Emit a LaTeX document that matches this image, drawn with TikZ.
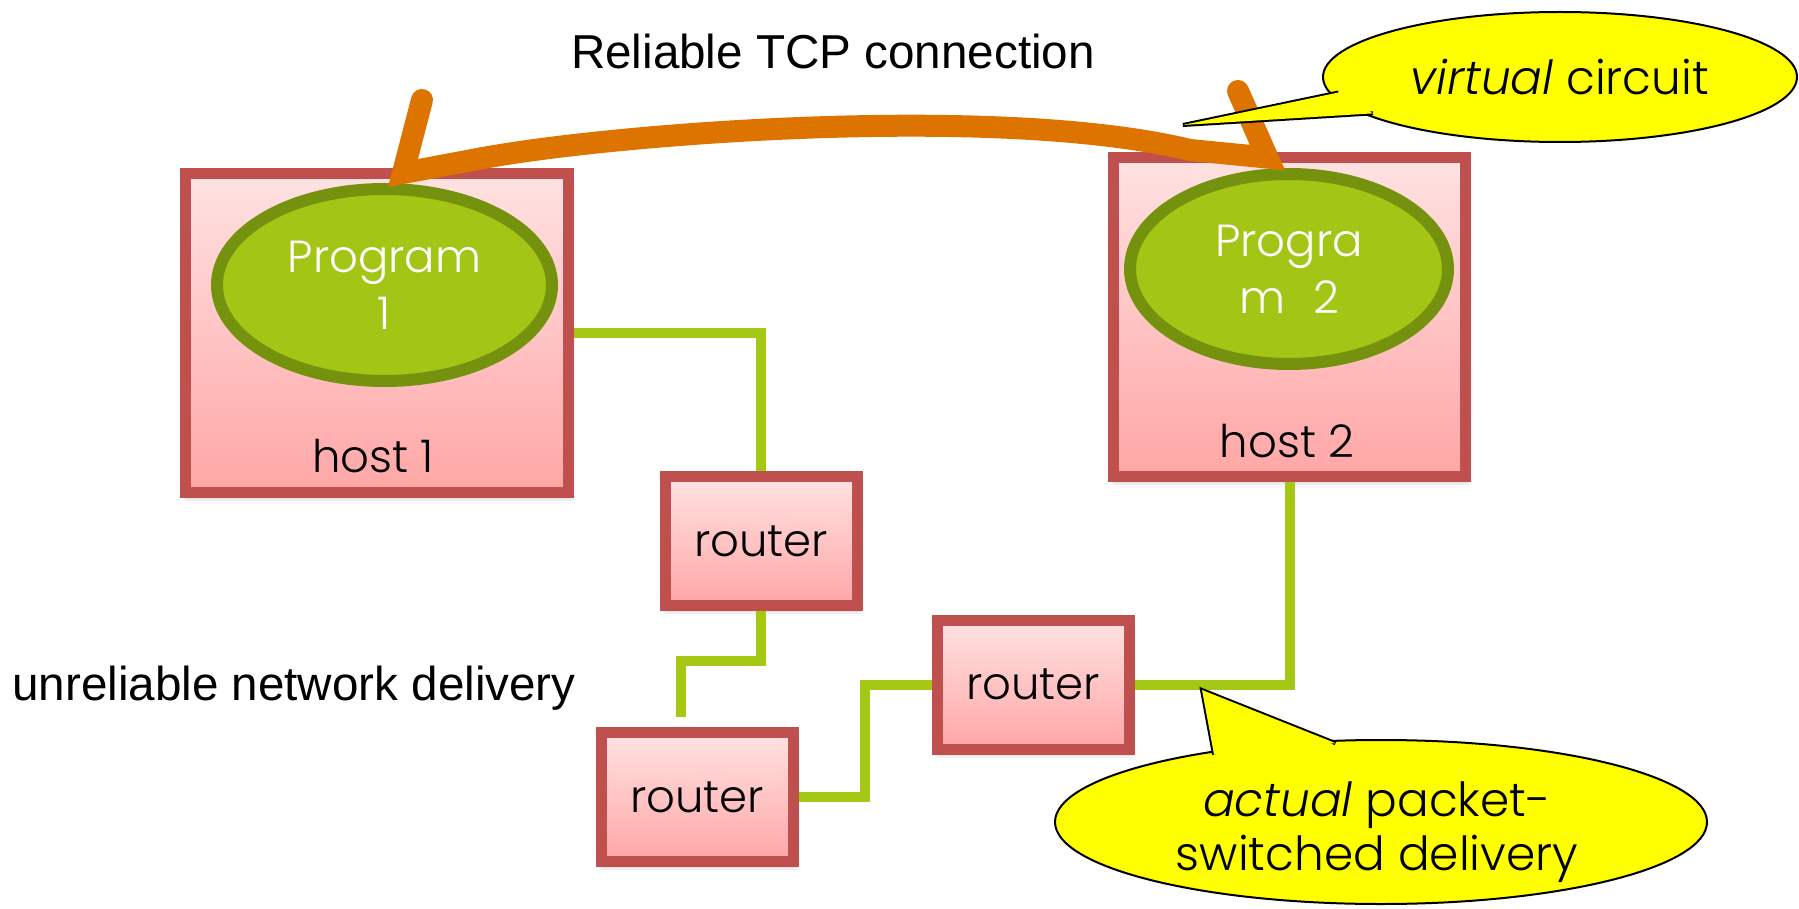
\documentclass[tikz,border=0pt]{standalone}
\usepackage{fontspec}
\setmainfont{Poppins}[UprightFont=* Light, ItalicFont=* Light Italic]
\newfontfamily\arialfont{Liberation Sans}
\usetikzlibrary{shapes.geometric,shadows.blur,calc}

\definecolor{hostred}{RGB}{192,80,77}
\definecolor{pinktop}{RGB}{255,226,226}
\definecolor{pinkbot}{RGB}{255,166,166}
\definecolor{progfill}{RGB}{162,197,22}
\definecolor{progedge}{RGB}{117,146,14}
\definecolor{wiregreen}{RGB}{164,200,20}
\definecolor{tcporange}{RGB}{222,116,0}
\definecolor{noteyellow}{RGB}{255,255,0}

\newcommand\diagfont{\fontsize{22.5}{28.5}\selectfont}
\newcommand\notefont{\fontsize{23.5}{27}\selectfont}
\newcommand\captionfont{\arialfont\fontsize{23.8}{27}\selectfont}

\begin{document}
\begin{tikzpicture}[x=0.5pt, y=-0.5pt,
  box/.style={rectangle, draw=hostred, line width=5.5pt,
    top color=pinktop, bottom color=pinkbot, inner sep=0pt,
    blur shadow={shadow xshift=1pt, shadow yshift=-2.5pt,
      shadow blur radius=2.5pt, shadow opacity=30}},
  hostbox/.style={box, minimum height=159.5pt},
  routerbox/.style={box, minimum width=96pt, minimum height=64.5pt, font=\diagfont},
  prog/.style={ellipse, draw=progedge, fill=progfill, line width=6pt,
    text=white, align=center, inner sep=0pt, font=\diagfont},
  lbl/.style={inner sep=0pt, font=\diagfont},
  caption/.style={inner sep=0pt, font=\captionfont},
  wire/.style={draw=wiregreen, line width=5pt},
  tcp/.style={draw=tcporange, line width=11pt, line cap=round, line join=miter},
  note/.style={ellipse, draw=black, fill=noteyellow, line width=1pt,
    inner sep=0pt, align=center, font=\notefont},
  notetail/.style={draw=black, fill=noteyellow, line width=2pt, line join=miter},
  notefill/.style={fill=noteyellow}
]
\useasboundingbox (0,0) rectangle (1799,909);

% hosts and routers
\node[hostbox, minimum width=191.5pt] (h1) at (377,333) {};
\node[hostbox, minimum width=176pt] (h2) at (1289.5,317) {};
\node[routerbox] (rA) at (761,541) {router};
\node[routerbox] (rB) at (697,797) {router};
\node[routerbox] (rC) at (1033,684.5) {router};

% programs
\node[prog, minimum width=167.5pt, minimum height=96pt] (p1) at (384.5,285) {Program\\1};
\node[prog, minimum width=159pt, minimum height=95pt] (p2) at (1289,269) {Progra\\m\hspace{14pt}2};

% host labels
\node[lbl, anchor=base] (h1l) at (373,472) {host 1};
\node[lbl, anchor=base] (h2l) at (1287,457) {host 2};

% captions
\node[caption, anchor=base] (tcpl) at (833,69) {Reliable TCP connection};
\node[caption, anchor=base] (unrel) at (294,700) {unreliable network delivery};

% network wiring
\coordinate (gap) at ($(rB.north)+(-16,-10)$);
\draw[wire] (h1.east) -| (rA.north);
\draw[wire] (rA.south) |- ($(rA.south)!0.47!(gap)$) -| (gap);
\draw[wire] (rB.east) -| ($(rB.east)!0.5!(rC.west)$) |- (rC.west);
\draw[wire] (rC.east) -| (h2.south);

% end-to-end TCP arrow
\draw[tcp] ($(p1.north)+(37.5,-83)$) -- ($(p1.north)+(18.5,-10)$)
  -- ($(p1.north)+(98.5,-25)$)
  .. controls ($(p1.north)+(235.5,-50)$) and ($(p2.north)+(-289,-64)$) ..
  ($(p2.north)+(-99,-18)$) -- ($(p2.north)+(-21.5,-10.4)$)
  -- ($(p2.north)+(-51,-77)$);

% callout: virtual circuit
\coordinate (vctip) at (1183,125);
\node[note, minimum width=237pt, minimum height=65pt] (vc) at (1560,77) {\textit{virtual} circuit};
\coordinate (vca) at ($(vc.center)!0.96!(vc.184)$);
\coordinate (vcb) at ($(vc.center)!0.96!(vc.191)$);
\path[notetail] (vca) -- (vctip) -- (vcb);
\path[notefill] (vca) -- (vctip) -- (vcb) -- cycle;

% callout: actual packet-switched delivery
\coordinate (pctip) at (1202,690);
\node[note, minimum width=326pt, minimum height=82pt] (pc) at (1381,822) {};
\node[inner sep=0pt, align=center, font=\notefont] (pctext) at (1377,832) {\textit{actual} packet-\\switched delivery};
\coordinate (pca) at ($(pc.center)!0.96!(pc.158)$);
\coordinate (pcb) at ($(pc.center)!0.96!(pc.120)$);
\path[notetail] (pca) -- (pctip) -- (pcb);
\path[notefill] (pca) -- (pctip) -- (pcb) -- cycle;
\end{tikzpicture}
\end{document}
